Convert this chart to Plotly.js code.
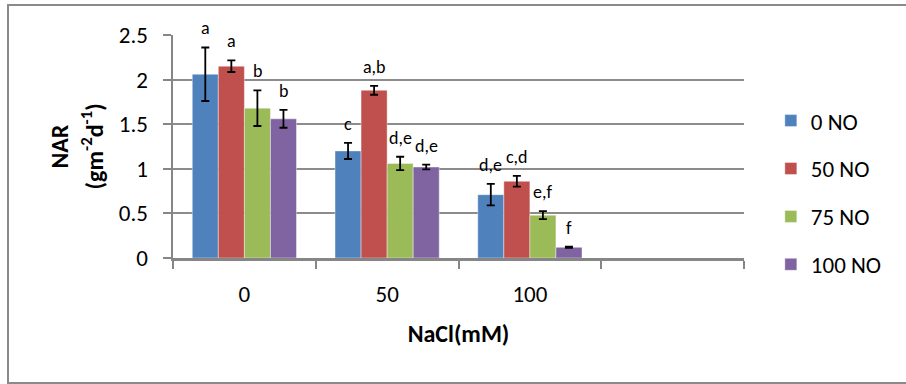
<!DOCTYPE html>
<html>
<head>
<meta charset="utf-8">
<script src="https://cdn.plot.ly/plotly-3.0.1.min.js"></script>
<style>
html,body{margin:0;padding:0;background:#fff;}
#wrap{position:relative;width:906px;height:384px;overflow:hidden;}
#chart{position:absolute;left:0;top:0;width:906px;height:384px;}
#frame{position:absolute;left:7px;top:4px;width:920px;height:376px;border:2px solid #8a8a8a;pointer-events:none;}
</style>
</head>
<body>
<div id="wrap"><div id="chart"></div><div id="frame"></div></div>
<script>
// ---- data ----
const categories = ['0', '50', '100'];
const nCategorySlots = 4;   // the reference axis keeps one empty slot on the right
const seriesNames = ['0 NO', '50 NO', '75 NO', '100 NO'];
const nar0   = [2.06, 1.20, 0.71];
const nar50  = [2.15, 1.88, 0.86];
const nar75  = [1.68, 1.06, 0.48];
const nar100 = [1.56, 1.02, 0.12];
const err0   = [0.30, 0.09, 0.12];
const err50  = [0.065, 0.05, 0.06];
const err75  = [0.20, 0.075, 0.045];
const err100 = [0.10, 0.027, 0.006];
const letters0   = ['a', 'c', 'd,e'];
const letters50  = ['a', 'a,b', 'c,d'];
const letters75  = ['b', 'd,e', 'e,f'];
const letters100 = ['b', 'd,e', 'f'];
const yTitle1 = '<b>NAR</b>';
const yTitle2 = '<b>(gm<sup>-2</sup>d<sup>-1</sup>)</b>';
const xTitle = '<b>NaCl(mM)</b>';

const values = [nar0, nar50, nar75, nar100];
const errors = [err0, err50, err75, err100];
const letters = [letters0, letters50, letters75, letters100];
const colors = ['#4F81BD', '#C0504D', '#9BBB59', '#8064A2'];
const bargap = 0.27;
const font = 'Calibri, Carlito, Lato, "Open Sans", sans-serif';
const idx = categories.map((c, i) => i);
const boundaries = Array.from({length: nCategorySlots + 1}, (_, k) => k - 0.5);

const traces = values.map((v, i) => ({
  type: 'bar',
  name: seriesNames[i],
  x: idx,
  y: v,
  marker: {color: colors[i], line: {color: 'rgba(255,255,255,0.5)', width: 0.8}},
  error_y: {type: 'data', array: errors[i], visible: true, color: '#000', thickness: 1.8, width: 4},
  legendgroup: 'g' + i,
  hoverinfo: 'y'
}));

const bw = (1 - bargap) / values.length;
const annotations = [];
values.forEach((v, i) => {
  v.forEach((val, j) => {
    annotations.push({
      x: j + (i - (values.length - 1) / 2) * bw,
      y: val + errors[i][j],
      xref: 'x', yref: 'y',
      text: letters[i][j],
      showarrow: false,
      yanchor: 'middle',
      yshift: 19,
      font: {family: font, size: 18, color: '#000'}
    });
  });
});
annotations.push({
  xref: 'paper', yref: 'paper', x: -0.1996, y: 0.5,
  xanchor: 'center', yanchor: 'middle', textangle: -90, showarrow: false,
  text: yTitle1, font: {family: font, size: 24, color: '#000'}
});
annotations.push({
  xref: 'paper', yref: 'paper', x: -0.1419, y: 0.5,
  xanchor: 'center', yanchor: 'middle', textangle: -90, showarrow: false,
  text: yTitle2, font: {family: font, size: 24, color: '#000'}
});

const layout = {
  width: 906, height: 384,
  margin: {l: 173, r: 162, t: 35, b: 125.5},
  paper_bgcolor: 'rgba(0,0,0,0)',
  plot_bgcolor: 'rgba(0,0,0,0)',
  barmode: 'group',
  bargap: bargap,
  bargroupgap: 0,
  showlegend: true,
  legend: {
    x: 1.047, xanchor: 'left', y: 0.293, yanchor: 'middle',
    font: {family: font, size: 23, color: '#000'},
    tracegroupgap: 15,
    traceorder: 'grouped',
    itemwidth: 30
  },
  xaxis: {
    type: 'linear',
    range: [-0.5, nCategorySlots - 0.5],
    tickmode: 'array',
    tickvals: idx,
    ticktext: categories,
    ticks: '',
    minor: {tickmode: 'array', tickvals: boundaries, ticks: 'outside', ticklen: 8, tickwidth: 2, tickcolor: '#868686', showgrid: false},
    ticklabelstandoff: 14,
    showline: true, linecolor: '#868686', linewidth: 2.5,
    showgrid: false, zeroline: false,
    tickfont: {family: font, size: 23, color: '#000'},
    title: {text: xTitle, font: {family: font, size: 24, color: '#000'}, standoff: 18},
    fixedrange: true
  },
  yaxis: {
    range: [0, 2.5],
    dtick: 0.5,
    ticks: 'outside', ticklen: 8, tickwidth: 2, tickcolor: '#868686',
    ticklabelstandoff: 10,
    showline: true, linecolor: '#868686', linewidth: 2.5,
    showgrid: true, gridcolor: '#8c8c8c', gridwidth: 2,
    zeroline: false,
    tickfont: {family: font, size: 23, color: '#000'},
    fixedrange: true
  },
  annotations: annotations
};

Plotly.newPlot('chart', traces, layout, {displayModeBar: false, staticPlot: true});
</script>
</body>
</html>
